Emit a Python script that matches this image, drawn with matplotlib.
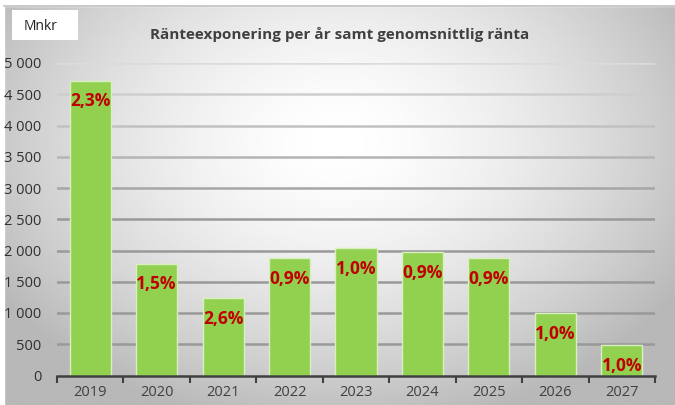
import numpy as np
import matplotlib
matplotlib.use("Agg")
import matplotlib.pyplot as plt
from matplotlib.patches import Rectangle

years = ["2019", "2020", "2021", "2022", "2023", "2024", "2025", "2026", "2027"]
exposure = [4720, 1790, 1240, 1880, 2040, 1980, 1880, 1000, 490]
rates = [2.3, 1.5, 2.6, 0.9, 1.0, 0.9, 0.9, 1.0, 1.0]
yticks = list(range(0, 5001, 500))

plt.rcParams['font.family'] = ['Open Sans', 'DejaVu Sans']

fig = plt.figure(figsize=(6.75, 4.05), dpi=100)

# radial grey background
bg = fig.add_axes([0, 0, 1, 1], zorder=-5)
gx, gy = np.meshgrid(np.linspace(0, 1, 400), np.linspace(0, 1, 240))
d = np.sqrt(((gx - 0.5) / 0.62) ** 2 + ((gy - 0.65) / 0.75) ** 2)
shade = np.clip(1.0 - 0.30 * d ** 1.6, 0.72, 1.0)
bg.imshow(shade, cmap='gray', vmin=0, vmax=1, origin='lower',
          extent=[0, 1, 0, 1], aspect='auto')
bg.add_patch(Rectangle((0, 1 - 6 / 405), 1, 6 / 405, color='white', zorder=3))
bg.add_patch(Rectangle((0, 0), 4 / 675, 1, color='white', zorder=3))
bg.axhline(1 - 6 / 405, xmin=4 / 675, color='#c0c0c0', lw=1.2, zorder=4)
bg.set_xlim(0, 1)
bg.set_ylim(0, 1)
bg.axis('off')

ax = fig.add_axes([57 / 675, 1 - 375.5 / 405, 598 / 675, (375.5 - 63) / 405])
ax.patch.set_alpha(0)

# gridlines fade out towards the top
for v in yticks[1:]:
    g = np.interp(v, [2500, 5000], [0.60, 0.86])
    ax.axhline(v, color=(g, g, g), lw=1.8, zorder=0)

x = np.arange(len(years))
bars = ax.bar(x, exposure, width=0.62, color='#92D050', edgecolor='#d8f0c0',
              linewidth=1.0, zorder=3)

for xi, h, r in zip(x, exposure, rates):
    ax.annotate(f"{r:.1f}%".replace('.', ','), (xi, h), xytext=(0, -15),
                textcoords='offset points', ha='center', va='center',
                color='#C00000', fontsize=12.5, fontweight='bold', zorder=4)

ax.set_xlim(-0.5, len(years) - 0.5)
ax.set_ylim(0, 5000)
ax.set_yticks(yticks)
ax.set_yticklabels([f"{v:,}".replace(',', ' ') for v in yticks])

ax.set_xticks(x)
ax.set_xticklabels(years)
ax.set_xticks(np.arange(-0.5, len(years)), minor=True)
ax.tick_params(axis='x', which='major', length=0, pad=7, labelsize=10.5,
               labelcolor='#404040')
ax.tick_params(axis='x', which='minor', length=5, width=1.5, color='#404040',
               direction='out')
ax.tick_params(axis='y', length=0, pad=11, labelsize=10.5, labelcolor='#303030')

for s in ['top', 'right', 'left']:
    ax.spines[s].set_visible(False)
ax.spines['bottom'].set_color('#404040')
ax.spines['bottom'].set_linewidth(1.8)
ax.spines['bottom'].set_zorder(5)

fig.text(340 / 675, 1 - 35 / 405, "Ränteexponering per år samt genomsnittlig ränta",
         ha='center', va='center', fontsize=11, fontweight='bold', color='#404040')

fig.patches.append(Rectangle((12 / 675, 1 - 40 / 405), 66 / 675, 30 / 405,
                             transform=fig.transFigure, facecolor='white',
                             edgecolor='none', zorder=2))
fig.text(24 / 675, 1 - 26 / 405, "Mnkr", ha='left', va='center', fontsize=10,
         color='#202020', zorder=3)

fig.savefig("out.png", dpi=100)
